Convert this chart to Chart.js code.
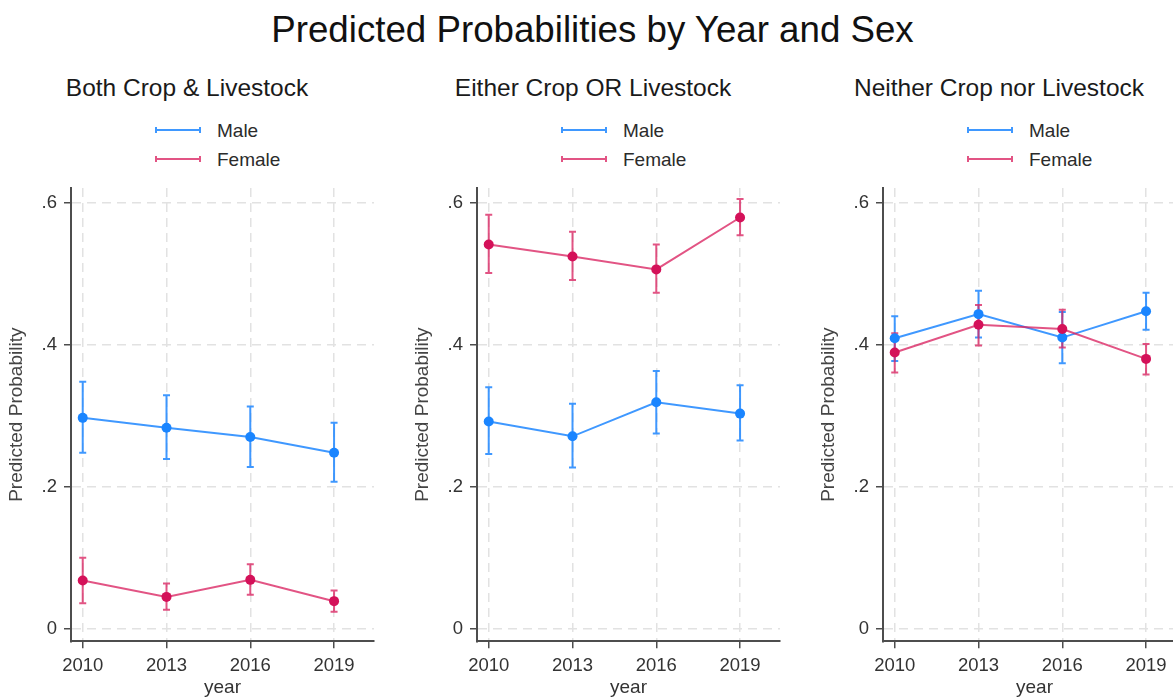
<!DOCTYPE html>
<html>
<head>
<meta charset="utf-8">
<script src="https://cdn.jsdelivr.net/npm/chart.js@4.4.1/dist/chart.umd.min.js"></script>
<style>
  html, body { margin: 0; padding: 0; background: #fff; }
  body { position: relative; width: 1173px; height: 699px; overflow: hidden;
         font-family: "Liberation Sans", Arial, sans-serif; }
  .txt { position: absolute; white-space: nowrap; line-height: 1; }
  .main-title { font-size: 36.7px; color: #111; }
  .panel-title { font-size: 24.5px; color: #1a1a1a; }
  .leg-text { font-size: 19px; color: #2b2b2b; }
  .leg-key { position: absolute; width: 46px; height: 6px; box-sizing: border-box;
             border-left: 2px solid; border-right: 2px solid; }
  .leg-key::after { content: ""; position: absolute; left: 0; right: 0; top: 2px; height: 2px; background: currentColor; }
  canvas.panel { position: absolute; top: 170px; }
</style>
</head>
<body>
<div class="txt main-title" id="mainTitle"></div>
<canvas class="panel" id="c0" width="400" height="529"></canvas>
<canvas class="panel" id="c1" width="400" height="529"></canvas>
<canvas class="panel" id="c2" width="400" height="529"></canvas>
<script>
// ---- chart text ----
const mainTitle = "Predicted Probabilities by Year and Sex";
const panelTitles = ["Both Crop & Livestock", "Either Crop OR Livestock", "Neither Crop nor Livestock"];
const seriesNames = ["Male", "Female"];
const xAxisTitle = "year";
const yAxisTitle = "Predicted Probability";

// ---- axes ----
const years = [2010, 2013, 2016, 2019];
const yTicks = [0, 0.2, 0.4, 0.6];
const yTickLabels = ["0", ".2", ".4", ".6"];

// ---- Both Crop & Livestock ----
const bothMale      = [0.297, 0.283, 0.270, 0.248];
const bothMaleLo    = [0.248, 0.239, 0.228, 0.207];
const bothMaleHi    = [0.348, 0.329, 0.313, 0.290];
const bothFemale    = [0.068, 0.045, 0.069, 0.039];
const bothFemaleLo  = [0.036, 0.027, 0.048, 0.024];
const bothFemaleHi  = [0.100, 0.064, 0.091, 0.054];

// ---- Either Crop OR Livestock ----
const eitherMale     = [0.292, 0.271, 0.319, 0.303];
const eitherMaleLo   = [0.246, 0.227, 0.275, 0.265];
const eitherMaleHi   = [0.340, 0.317, 0.363, 0.343];
const eitherFemale   = [0.541, 0.524, 0.506, 0.579];
const eitherFemaleLo = [0.501, 0.491, 0.473, 0.554];
const eitherFemaleHi = [0.583, 0.559, 0.541, 0.605];

// ---- Neither Crop nor Livestock ----
const neitherMale     = [0.409, 0.443, 0.410, 0.447];
const neitherMaleLo   = [0.377, 0.410, 0.374, 0.421];
const neitherMaleHi   = [0.440, 0.476, 0.446, 0.473];
const neitherFemale   = [0.389, 0.428, 0.422, 0.380];
const neitherFemaleLo = [0.361, 0.399, 0.396, 0.358];
const neitherFemaleHi = [0.416, 0.456, 0.449, 0.401];

const panels = [
  { male: bothMale, maleLo: bothMaleLo, maleHi: bothMaleHi, female: bothFemale, femaleLo: bothFemaleLo, femaleHi: bothFemaleHi },
  { male: eitherMale, maleLo: eitherMaleLo, maleHi: eitherMaleHi, female: eitherFemale, femaleLo: eitherFemaleLo, femaleHi: eitherFemaleHi },
  { male: neitherMale, maleLo: neitherMaleLo, maleHi: neitherMaleHi, female: neitherFemale, femaleLo: neitherFemaleLo, femaleHi: neitherFemaleHi }
];

// ---- style ----
const maleMarker = "#1a85ff", maleLine = "rgba(36,138,255,0.88)";
const femaleMarker = "#d41159", femaleLine = "rgba(218,36,98,0.78)";
const axisColor = "#4d4d4d", gridColor = "#e2e2e2", labelColor = "#333";
const FONT = '"Liberation Sans", Arial, sans-serif';
const canvasLeft = [0, 406, 812];
const AXIS_OFFSET = 71;   // y axis line position within each canvas

// text helpers (positioned by baseline)
function placeText(el, text, x, baseline, size, align) {
  el.textContent = text;
  const top = baseline - (size - size * 1.117) / 2 - size * 0.905;
  el.style.top = top + "px";
  if (align === "center") { el.style.left = x + "px"; el.style.transform = "translateX(-50%)"; }
  else el.style.left = x + "px";
}
placeText(document.getElementById("mainTitle"), mainTitle, 592.5, 43, 36.7, "center");

panels.forEach((p, k) => {
  const ax = canvasLeft[k] + AXIS_OFFSET;
  const t = document.createElement("div");
  t.className = "txt panel-title";
  document.body.appendChild(t);
  placeText(t, panelTitles[k], ax + 116, 97, 24.5, "center");
  [[seriesNames[0], maleLine, 129.5, 136.7], [seriesNames[1], femaleLine, 158.5, 165.7]].forEach(([name, col, ly, base]) => {
    const key = document.createElement("div");
    key.className = "leg-key";
    key.style.left = (ax + 84) + "px";
    key.style.top = (ly - 3) + "px";
    key.style.color = col;
    key.style.borderColor = col;
    document.body.appendChild(key);
    const lt = document.createElement("div");
    lt.className = "txt leg-text";
    document.body.appendChild(lt);
    placeText(lt, name, ax + 146, base, 19, "left");
  });
});

// draws the confidence-interval caps behind each series
const errorBars = {
  id: "errorBars",
  beforeDatasetsDraw(chart) {
    const { ctx, scales: { x, y } } = chart;
    chart.data.datasets.forEach((ds, i) => {
      if (!chart.isDatasetVisible(i)) return;
      ctx.save();
      ctx.strokeStyle = ds.borderColor;
      ctx.lineWidth = 2;
      ds.data.forEach((pt, j) => {
        const px = x.getPixelForValue(pt.x);
        const lo = y.getPixelForValue(ds.errLow[j]);
        const hi = y.getPixelForValue(ds.errHigh[j]);
        ctx.beginPath();
        ctx.moveTo(px, lo); ctx.lineTo(px, hi);
        ctx.moveTo(px - 3.5, lo); ctx.lineTo(px + 3.5, lo);
        ctx.moveTo(px - 3.5, hi); ctx.lineTo(px + 3.5, hi);
        ctx.stroke();
      });
      ctx.restore();
    });
  }
};

function series(name, vals, lo, hi, line, marker, order) {
  return {
    label: name,
    data: years.map((yr, i) => ({ x: yr, y: vals[i] })),
    errLow: lo, errHigh: hi,
    borderColor: line, backgroundColor: marker,
    pointBackgroundColor: marker, pointBorderColor: marker,
    pointRadius: 5, pointBorderWidth: 0, borderWidth: 2,
    tension: 0, order: order
  };
}

panels.forEach((p, k) => {
  const cv = document.getElementById("c" + k);
  cv.style.left = canvasLeft[k] + "px";
  new Chart(cv, {
    type: "line",
    data: {
      datasets: [
        series(seriesNames[0], p.male, p.maleLo, p.maleHi, maleLine, maleMarker, 1),
        series(seriesNames[1], p.female, p.femaleLo, p.femaleHi, femaleLine, femaleMarker, 0)
      ]
    },
    options: {
      responsive: false,
      devicePixelRatio: 1,
      animation: false,
      layout: { padding: { top: 15.2, right: 26, left: 0, bottom: 0 } },
      plugins: { legend: { display: false }, title: { display: false }, tooltip: { enabled: false } },
      scales: {
        x: {
          type: "linear", min: 2009.58, max: 2020.43,
          afterBuildTicks: s => { s.ticks = years.map(v => ({ value: v })); },
          afterFit: s => { s.height = 57.7; },
          ticks: { callback: v => String(v), color: labelColor, padding: 7, maxRotation: 0,
                   font: { family: FONT, size: 18.5 } },
          grid: { color: gridColor, lineWidth: 1.5, tickLength: 7, tickColor: axisColor, tickWidth: 1.5 },
          border: { color: axisColor, width: 2, dash: [9, 6] },
          title: { display: true, text: xAxisTitle, color: labelColor, padding: { top: 0, bottom: 0 },
                   font: { family: FONT, size: 19, lineHeight: 1.2 } }
        },
        y: {
          type: "linear", min: -0.0175, max: 0.6204,
          afterBuildTicks: s => { s.ticks = yTicks.map(v => ({ value: v })); },
          afterFit: s => { s.width = AXIS_OFFSET; },
          ticks: { callback: (v) => yTickLabels[yTicks.indexOf(v)], color: labelColor, padding: 7,
                   font: { family: FONT, size: 18.5 } },
          grid: { color: gridColor, lineWidth: 1.5, tickLength: 7, tickColor: axisColor, tickWidth: 1.5 },
          border: { color: axisColor, width: 2, dash: [9, 6] },
          title: { display: true, text: yAxisTitle, color: "#444", padding: { top: 5.5, bottom: 0 },
                   font: { family: FONT, size: 19, lineHeight: 1.2 } }
        }
      }
    },
    plugins: [errorBars]
  });
});
</script>
</body>
</html>
